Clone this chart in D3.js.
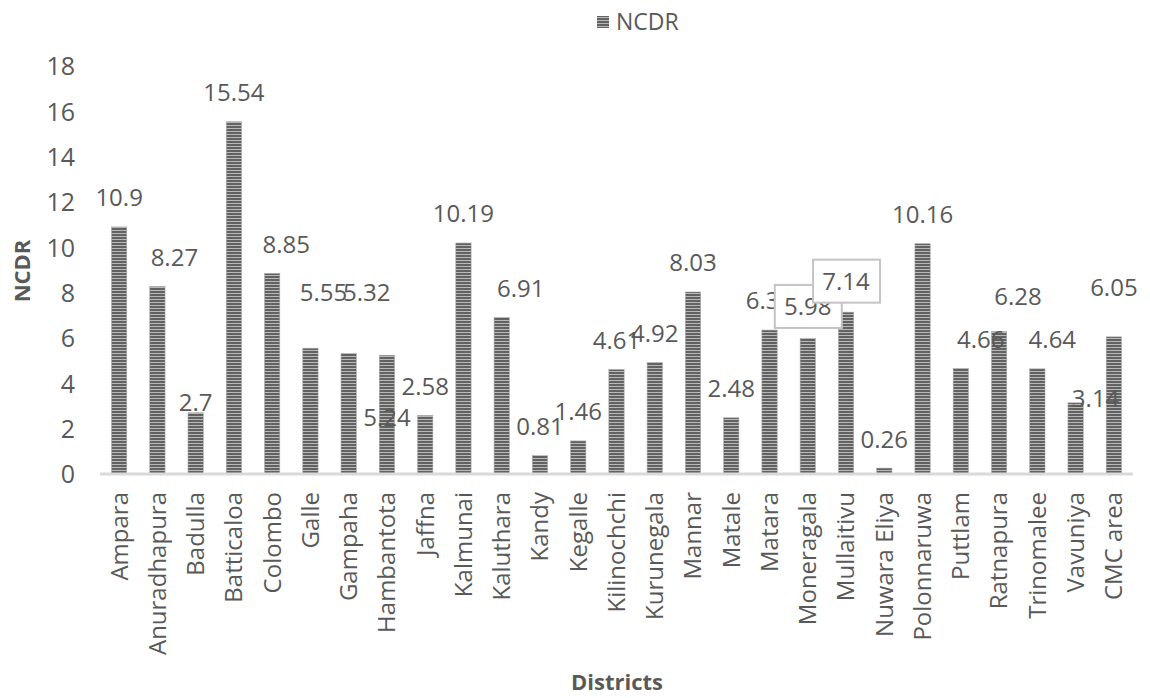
<!DOCTYPE html>
<html>
<head>
<meta charset="utf-8">
<script src="https://cdn.jsdelivr.net/npm/d3@7/dist/d3.min.js"></script>
<style>
  html, body { margin: 0; padding: 0; background: #fff; }
  svg { display: block; }
  text { font-family: "Open Sans", "Noto Sans", sans-serif; fill: #595959; }
</style>
</head>
<body>
<svg id="chart" width="1150" height="698"></svg>
<script>
// NCDR by district
const districts = ["Ampara", "Anuradhapura", "Badulla", "Batticaloa", "Colombo", "Galle",
  "Gampaha", "Hambantota", "Jaffna", "Kalmunai", "Kaluthara", "Kandy", "Kegalle",
  "Kilinochchi", "Kurunegala", "Mannar", "Matale", "Matara", "Moneragala", "Mullaitivu",
  "Nuwara Eliya", "Polonnaruwa", "Puttlam", "Ratnapura", "Trinomalee", "Vavuniya", "CMC area"];
const ncdr = [10.9, 8.27, 2.7, 15.54, 8.85, 5.55, 5.32, 5.24, 2.58, 10.19, 6.91, 0.81, 1.46,
  4.61, 4.92, 8.03, 2.48, 6.35, 5.98, 7.14, 0.26, 10.16, 4.66, 6.28, 4.64, 3.14, 6.05];
const yTicks = [0, 2, 4, 6, 8, 10, 12, 14, 16, 18];
const seriesName = "NCDR";

// label placement tweaks (dx, dy from the default spot above each bar) and boxed labels
const labelNudge = {
  "Anuradhapura": [17, 0], "Badulla": [0, 19], "Colombo": [14, 0], "Galle": [13, -27],
  "Gampaha": [18, -32], "Hambantota": [0, 91], "Kaluthara": [19, 0], "Puttlam": [20, 0],
  "Ratnapura": [19, -6], "Trinomalee": [15, 0], "Vavuniya": [20, 25], "CMC area": [0, -20],
  "Moneragala": [0, -3], "Mullaitivu": [0, -2]
};
const boxedLabels = ["Moneragala", "Mullaitivu"];

const svg = d3.select("#chart");
const plot = { left: 100, right: 1133, top: 66, bottom: 474 };

const x = d3.scaleBand().domain(districts).range([plot.left, plot.right])
  .paddingInner(0.6).paddingOuter(0.3);
const y = d3.scaleLinear().domain([0, 18]).range([plot.bottom, plot.top]);

// horizontal stripe fill
const defs = svg.append("defs");
const pat = defs.append("pattern").attr("id", "stripes")
  .attr("patternUnits", "userSpaceOnUse").attr("width", 8).attr("height", 3);
pat.append("rect").attr("width", 8).attr("height", 3).attr("fill", "#b8b8b8");
pat.append("rect").attr("width", 8).attr("height", 2).attr("fill", "#626262");

// y axis tick labels
const yAxis = d3.axisLeft(y).tickValues(yTicks).tickSize(0).tickPadding(0).tickFormat(d3.format("d"));
svg.append("g").attr("transform", "translate(75,0)").call(yAxis)
  .call(g => g.select(".domain").remove())
  .call(g => g.selectAll("text").style("font-size", "25px")
    .style("font-family", "'Open Sans', sans-serif").attr("fill", "#595959").attr("dy", "0.35em"));

// bars
svg.append("g").selectAll("rect").data(districts).join("rect")
  .attr("x", d => x(d))
  .attr("width", x.bandwidth())
  .attr("y", (d, i) => y(ncdr[i]))
  .attr("height", (d, i) => y(0) - y(ncdr[i]))
  .attr("fill", "url(#stripes)")
  .attr("stroke", "#a8a8a8").attr("stroke-width", 0.6);

// category axis line
svg.append("line").attr("x1", plot.left).attr("x2", plot.right)
  .attr("y1", y(0)).attr("y2", y(0))
  .attr("stroke", "#d9d9d9").attr("stroke-width", 3);

// x axis labels (rotated)
const xAxis = d3.axisBottom(x).tickSize(0).tickPadding(0);
svg.append("g").attr("transform", `translate(0,${y(0)})`).call(xAxis)
  .call(g => g.select(".domain").remove())
  .call(g => g.selectAll("text")
    .style("font-size", "24px").style("font-family", "'Open Sans', sans-serif")
    .attr("fill", "#595959")
    .attr("text-anchor", "end")
    .attr("transform", "rotate(-90)")
    .attr("x", -18).attr("y", 0).attr("dy", "0.35em"));

// data labels
const labelG = svg.append("g");
const labels = districts.map((d, i) => {
  const n = labelNudge[d] || [0, 0];
  return { d, v: ncdr[i], cx: x(d) + x.bandwidth() / 2 + n[0], cy: y(ncdr[i]) - 29 + n[1] };
});
const plain = labels.filter(l => !boxedLabels.includes(l.d));
labelG.selectAll("text.plain").data(plain).join("text").attr("class", "plain")
  .attr("x", l => l.cx).attr("y", l => l.cy).attr("dy", "0.35em")
  .attr("text-anchor", "middle").style("font-size", "24px")
  .text(l => String(l.v));

// boxed callout labels
const boxed = labels.filter(l => boxedLabels.includes(l.d));
const bg = labelG.selectAll("g.boxed").data(boxed).join("g").attr("class", "boxed");
bg.append("rect")
  .attr("x", l => l.cx - 33).attr("y", l => l.cy - 21.5)
  .attr("width", 67).attr("height", 43)
  .attr("fill", "#fff").attr("stroke", "#c4c4c4").attr("stroke-width", 2);
bg.append("text").attr("x", l => l.cx).attr("y", l => l.cy).attr("dy", "0.35em")
  .attr("text-anchor", "middle").style("font-size", "24px")
  .text(l => String(l.v));

// axis titles
svg.append("text").attr("x", plot.left + (plot.right - plot.left) / 2 + 0.5).attr("y", 690)
  .attr("text-anchor", "middle").style("font-size", "22px").style("font-weight", "bold")
  .text("Districts");
svg.append("text").attr("transform", "translate(22,271) rotate(-90)")
  .attr("text-anchor", "middle").attr("dy", "0.35em")
  .style("font-size", "22px").style("font-weight", "bold")
  .text(seriesName);

// legend
const lg = svg.append("g");
lg.append("rect").attr("x", 597).attr("y", 16).attr("width", 12).attr("height", 12)
  .attr("fill", "url(#stripes)");
lg.append("text").attr("x", 616).attr("y", 22).attr("dy", "0.35em")
  .style("font-size", "23px").text(seriesName);
</script>
</body>
</html>
